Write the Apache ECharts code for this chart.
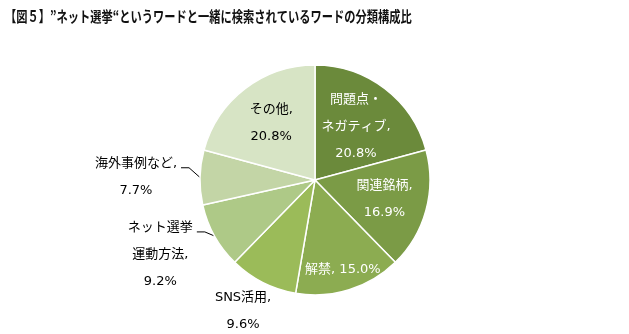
<!DOCTYPE html>
<html><head><meta charset="utf-8">
<script src="https://cdn.jsdelivr.net/npm/echarts@6/dist/echarts.min.js"></script>
<style>html,body{margin:0;padding:0;background:#fff}#c{width:629px;height:334px}</style>
</head><body><div id="c"></div>
<script>
// Breakdown of words searched together with "ネット選挙" (share, %)
const categories = ['問題点・\nネガティブ', '関連銘柄', '解禁', 'SNS活用', 'ネット選挙\n運動方法', '海外事例など', 'その他'];
const shares = [20.8, 16.9, 15.0, 9.6, 9.2, 7.7, 20.8];
const titleText = '【図５】”ネット選挙“というワードと一緒に検索されているワードの分類構成比';

const sliceColors = ['#6b8a3b', '#7b9b46', '#8cac51', '#9bbb59', '#aec987', '#c3d5a6', '#d7e4c5'];
const labelColors = ['#ffffff', '#ffffff', '#ffffff', '#000000', '#000000', '#000000', '#000000'];
const labelInside = [true, true, true, false, false, false, true];
const labelOneLine = [false, false, true, false, false, false, false];
const leaderShown = [false, false, false, false, true, true, false];
// extra radial push for inside labels, as a fraction of the radius
const insideShift = [0.06, 0.1, 0.29, 0, 0, 0, 0.10];
// small nudges (px) for the outside labels
const outsideNudge = [null, null, null, [26, 20], [0, 14], [0, 0], null];

const PIE_CX = 315, PIE_CY = 180, PIE_R = 115;
const LABEL_FONT = '"DejaVu Sans", "Noto Sans CJK JP", sans-serif';
const LINE_H = 27;

// mid angle of every slice, clockwise from 12 o'clock
const total = shares.reduce((a, b) => a + b, 0);
const midAngles = [];
let acc = 0;
shares.forEach(v => { midAngles.push((acc + v / 2) / total * Math.PI * 2); acc += v; });

const chart = echarts.init(document.getElementById('c'), null, { renderer: 'canvas' });
chart.setOption({
  animation: false,
  backgroundColor: '#ffffff',
  graphic: [{
    type: 'text',
    x: 5, y: 9,
    scaleX: 0.75,
    style: {
      text: titleText,
      font: 'bold 15px "Noto Sans CJK JP", sans-serif',
      fill: '#111111',
      textVerticalAlign: 'top'
    }
  }],
  series: [{
    type: 'pie',
    center: [PIE_CX, PIE_CY],
    radius: [0, PIE_R],
    startAngle: 90,
    clockwise: true,
    avoidLabelOverlap: false,
    itemStyle: { borderColor: '#ffffff', borderWidth: 1.5 },
    labelLine: { length: 10, length2: 8, lineStyle: { color: '#000', width: 1 } },
    data: categories.map((name, i) => ({
      name: name,
      value: shares[i],
      itemStyle: { color: sliceColors[i] },
      label: {
        position: labelInside[i] ? 'inside' : 'outside',
        color: labelColors[i]
      },
      labelLine: { show: leaderShown[i] }
    })),
    label: {
      fontFamily: LABEL_FONT, fontSize: 13, lineHeight: LINE_H,
      formatter: p => p.name + (labelOneLine[p.dataIndex] ? ', ' : ',\n') + p.value.toFixed(1) + '%'
    },
    labelLayout: p => {
      const i = p.dataIndex;
      const a = midAngles[i];
      if (labelInside[i]) {
        const s = insideShift[i] * PIE_R;
        return { dx: Math.sin(a) * s, dy: -Math.cos(a) * s };
      }
      const r = p.labelRect;
      const n = outsideNudge[i];
      const x = r.x + r.width / 2 + n[0];
      const y = r.y + r.height / 2 + n[1];
      const out = { x: x, y: y, align: 'center', verticalAlign: 'middle' };
      if (leaderShown[i]) {
        // leader: from the slice edge to the end of the label's first line
        const ex = PIE_CX + Math.sin(a) * PIE_R;
        const ey = PIE_CY - Math.cos(a) * PIE_R;
        const lx = x + r.width / 2 + 4;
        const ly = y - r.height / 2 + LINE_H / 2 + 4;
        out.labelLinePoints = [[ex, ey], [lx + 8, ly], [lx, ly]];
      }
      return out;
    }
  }]
});
</script></body></html>
